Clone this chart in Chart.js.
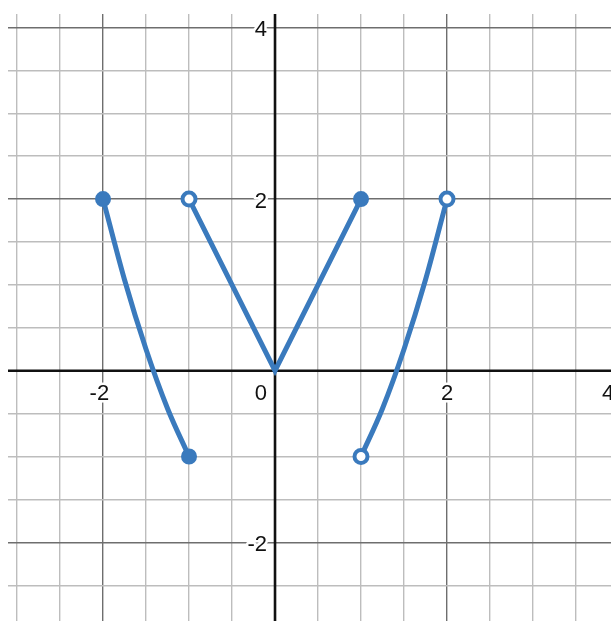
<!DOCTYPE html>
<html>
<head>
<meta charset="utf-8">
<script src="https://cdn.jsdelivr.net/npm/chart.js@4"></script>
<style>
  html, body { margin: 0; padding: 0; background: #fff; }
  #wrap { width: 611px; height: 621px; }
</style>
</head>
<body>
<div id="wrap"><canvas id="c" width="611" height="621"></canvas></div>
<script>
// ---- data ----
const curveLeftX  = [-2, -1.75, -1.5, -1.25, -1];
const curveLeftY  = [2, 1.06, 0.25, -0.44, -1];
const vLineX      = [-1, 0, 1];
const vLineY      = [2, 0, 2];
const curveRightX = [1, 1.25, 1.5, 1.75, 2];
const curveRightY = [-1, -0.44, 0.25, 1.06, 2];
const closedPointsX = [-2, -1, 1];
const closedPointsY = [2, -1, 2];
const openPointsX   = [-1, 1, 2];
const openPointsY   = [2, -1, 2];
const xTickLabels = [-2, 0, 2, 4];
const yTickLabels = [-2, 2, 4];
const xRange = [-3.105, 3.907];
const yRange = [-2.917, 4.157];

const BLUE = '#3a7abd';
const zip = (xs, ys) => xs.map((x, i) => ({ x: x, y: ys[i] }));

function isMajor(v) { return Math.abs(v / 2 - Math.round(v / 2)) < 1e-9; }
function gridColor(ctx) {
  const v = ctx.tick ? ctx.tick.value : 0;
  if (Math.abs(v) < 1e-9) return 'rgba(0,0,0,0)';
  return isMajor(v) ? '#6e6e6e' : '#bdbdbd';
}

const labelPlugin = {
  id: 'desmosAxes',
  beforeDatasetsDraw(chart) {
    const ctx = chart.ctx;
    const xs = chart.scales.x, ys = chart.scales.y;
    const a = chart.chartArea;
    const x0 = xs.getPixelForValue(0), y0 = ys.getPixelForValue(0);
    ctx.save();
    // axes
    ctx.strokeStyle = '#111';
    ctx.lineWidth = 2.6;
    ctx.beginPath();
    ctx.moveTo(x0, a.top); ctx.lineTo(x0, a.bottom);
    ctx.moveTo(a.left, y0); ctx.lineTo(a.right, y0);
    ctx.stroke();
    // labels
    ctx.font = '22px "Liberation Sans", Arial, sans-serif';
    ctx.textBaseline = 'alphabetic';
    ctx.textAlign = 'left';
    ctx.lineJoin = 'round';
    ctx.lineWidth = 5;
    ctx.strokeStyle = '#fff';
    ctx.fillStyle = '#111';
    const W = chart.width;
    function put(text, left, base) {
      ctx.strokeText(text, left, base);
      ctx.fillText(text, left, base);
    }
    xTickLabels.forEach(v => {
      const t = String(v);
      const px = xs.getPixelForValue(v);
      const base = y0 + 29.5;
      if (v === 0) {
        const w = ctx.measureText(t).width;
        put(t, x0 - 8 - w, base);
        return;
      }
      const digits = t.replace('-', '');
      const dw = ctx.measureText(digits).width;
      const mw = t.startsWith('-') ? ctx.measureText('-').width : 0;
      let left = px - dw / 2 - mw;
      if (left + dw + mw > W + 3) left = W - 9;
      put(t, left, base);
    });
    yTickLabels.forEach(v => {
      const t = String(v);
      const py = ys.getPixelForValue(v);
      const w = ctx.measureText(t).width;
      put(t, x0 - 8 - w, py + 8.5);
    });
    ctx.restore();
  }
};

const lineBase = {
  type: 'line',
  borderColor: BLUE,
  borderWidth: 5,
  pointRadius: 0,
  fill: false,
  showLine: true,
  borderCapStyle: 'round'
};

new Chart(document.getElementById('c'), {
  type: 'scatter',
  data: {
    datasets: [
      { label: 'open', data: zip(openPointsX, openPointsY), showLine: false,
        pointRadius: 6.5, pointBorderWidth: 4, pointBackgroundColor: '#fff', pointBorderColor: BLUE },
      { label: 'closed', data: zip(closedPointsX, closedPointsY), showLine: false,
        pointRadius: 7, pointBorderWidth: 2, pointBackgroundColor: BLUE, pointBorderColor: BLUE },
      Object.assign({ label: 'left', data: zip(curveLeftX, curveLeftY), cubicInterpolationMode: 'monotone', borderJoinStyle: 'round' }, lineBase),
      Object.assign({ label: 'v', data: zip(vLineX, vLineY), tension: 0, borderJoinStyle: 'miter' }, lineBase),
      Object.assign({ label: 'right', data: zip(curveRightX, curveRightY), cubicInterpolationMode: 'monotone', borderJoinStyle: 'round' }, lineBase)
    ]
  },
  options: {
    responsive: false,
    devicePixelRatio: 1,
    animation: false,
    events: [],
    layout: { autoPadding: false, padding: { left: 8, top: 14, right: 0, bottom: 0 } },
    plugins: { legend: { display: false }, tooltip: { enabled: false } },
    scales: {
      x: {
        type: 'linear', min: xRange[0], max: xRange[1],
        ticks: { display: false, stepSize: 0.5, includeBounds: false },
        grid: { color: gridColor, lineWidth: 1.4, drawTicks: false },
        border: { display: false },
        afterFit(s) { s.height = 0; }
      },
      y: {
        type: 'linear', min: yRange[0], max: yRange[1],
        ticks: { display: false, stepSize: 0.5, includeBounds: false },
        grid: { color: gridColor, lineWidth: 1.4, drawTicks: false },
        border: { display: false },
        afterFit(s) { s.width = 0; }
      }
    }
  },
  plugins: [labelPlugin]
});
</script>
</body>
</html>
